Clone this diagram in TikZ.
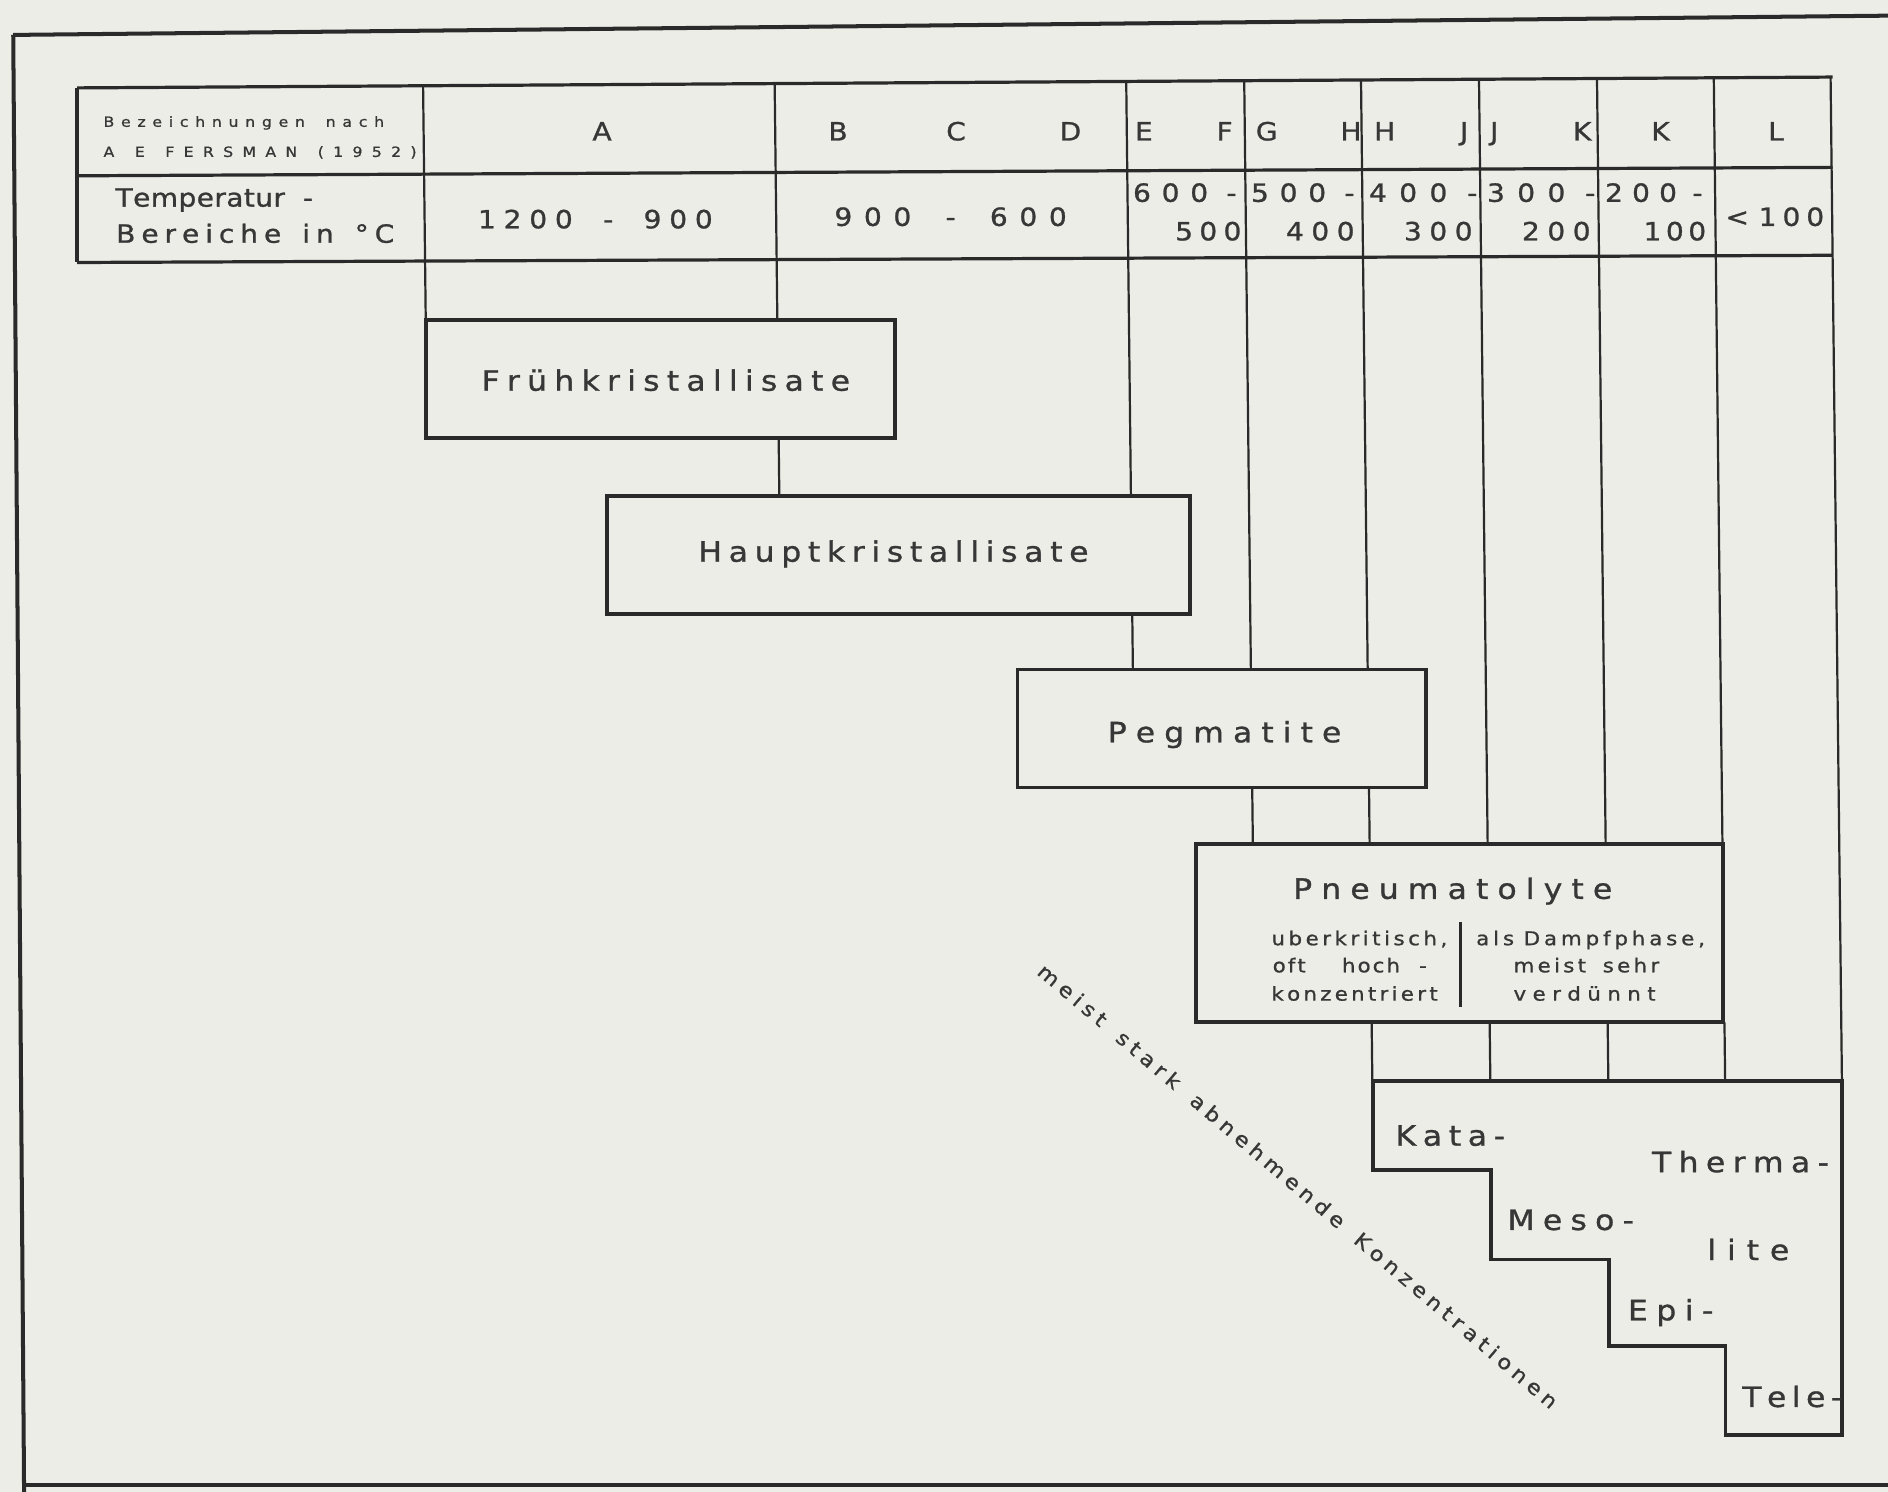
\documentclass[tikz,border=0pt]{standalone}
\usepackage{fontspec}
\setmainfont{DejaVu Sans}[FakeStretch=1.12]
\definecolor{paper}{RGB}{237,237,231}
\definecolor{ink}{RGB}{42,42,42}
\definecolor{tink}{RGB}{55,55,55}
\makeatletter
\newlength\fitwA
\newcount\spn
% letter-spacing by hand: | is a word gap
\def\sp@one#1{\ifx#1|\hspace{\sp@g}\else#1\kern\sp@k\relax\global\advance\spn by 1\relax\fi}
\def\sp@loop#1{\ifx#1\relax\else\sp@one{#1}\expandafter\sp@loop\fi}
\newcommand\sp@run[3]{\def\sp@k{#1}\def\sp@g{#2}\sp@loop#3\relax\unkern}
% \fitw[word gap]{target width in reference px}{text}
\newcommand\fitw[3][0.5em]{%
  \global\spn=0\relax
  \settowidth\fitwA{\sp@run{0pt}{#1}{#3}}%
  \pgfmathsetlengthmacro\sp@kk{(#2*0.6pt-\fitwA)/max(\the\spn-1,1)}%
  \sp@run{\sp@kk}{#1}{#3}}
\makeatother
\tikzset{
  declare function={colx(\a,\b)=\a+0.0113*(\b-215); topy(\a)=73-0.00617*(\a-63);},
  txt/.style={inner sep=0pt, outer sep=0pt, text=tink, anchor=base},
  fbig/.style={font=\fontsize{14}{16}\selectfont\addfontfeature{FakeBold=1}},
  fmid/.style={font=\fontsize{12.5}{15}\selectfont\addfontfeature{FakeBold=1}},
  fsub/.style={font=\fontsize{9.5}{11}\selectfont\addfontfeature{FakeBold=1}},
  fsmall/.style={font=\fontsize{7}{8}\selectfont\addfontfeature{FakeBold=1}},
  fdiag/.style={font=\fontsize{10}{12}\selectfont\addfontfeature{FakeBold=1}},
  boxnode/.style={draw=ink, line width=1.9pt, inner sep=0pt, outer sep=0pt},
  colline/.style={draw=ink, line width=1.1pt},
  tabline/.style={draw=ink, line width=1.6pt},
  frameline/.style={draw=ink, line width=2pt},
}
\begin{document}
\begin{tikzpicture}[x=0.6pt,y=-0.6pt]
\fill[paper] (0,0) rectangle (1568,1239);
\useasboundingbox (0,0) rectangle (1568,1239);

% outer frame
\draw[frameline] (11,29) -- (1568,13);
\draw[frameline] (11,29) -- (20,1239);
\draw[frameline] (18,1233) -- (1568,1233);

% table
\draw[tabline] (64,73) -- (1522,64);
\draw[tabline] (64,146) -- (1522,139);
\draw[tabline] (64,218) -- (1522,212);
\draw[tabline] (64,73) -- (64,218);

% column lines from the table down
\foreach \c/\yb in {353/266,645/266,937/412,1035/556,1132/556,1230/701,1328/701,1425/701,1522/898}
  \draw[colline] ({colx(\c,topy(\c))},{topy(\c)}) -- ({colx(\c,\yb)},\yb);
\foreach \c/\ya/\yb in {645/364/412,937/510/556,1035/654/701,1132/654/701,1132/849/898,1230/849/898,1328/849/898,1425/849/898}
  \draw[colline] ({colx(\c,\ya)},\ya) -- ({colx(\c,\yb)},\yb);

% boxes
\node[boxnode, minimum width=233.4pt, minimum height=58.8pt] (frueh) at (548.5,315) {};
\node[boxnode, minimum width=290.4pt, minimum height=58.8pt] (haupt) at (746,461) {};
\node[boxnode, minimum width=203.4pt, minimum height=58.8pt] (pegm) at (1014.5,605) {};
\node[boxnode, minimum width=262.8pt, minimum height=88.8pt] (pneu) at (1212,775) {};

% staircase (Thermalite)
\draw[draw=ink, line width=1.9pt, line join=miter]
  (1140,898) -- (1530,898) -- (1530,1192) -- (1433,1192) -- (1433,1118)
  -- (1336,1118) -- (1336,1046) -- (1238,1046) -- (1238,972) -- (1140,972) -- cycle;

% row 1 texts
\node[txt,fsmall] (bez1) at (202.5,105.3) {\fitw[1.0em]{233}{Bezeichnungen|nach}};
\node[txt,fsmall] (bez2) at (216,130.3) {\fitw[0.8em]{260}{A|E|FERSMAN|(1952)}};
\foreach \x/\l [count=\i] in {500/A,696/B,794/C,889/D,950/E,1017/F,1052/G,1122/H,1150/H,1216/J,1241/J,1314/K,1379/K,1475/L}
  \node[txt,fmid] (hd\i) at (\x,116.6) {\l};

% row 2 texts
\node[txt,fmid] (temp1) at (178,171.6) {\fitw[0.7em]{164}{Temperatur|-}};
\node[txt,fmid] (temp2) at (212,201.6) {\fitw[0.6em]{231}{Bereiche|in|°C}};
\node[txt,fmid] (ta) at (494.5,189.6) {\fitw[0.9em]{195}{1200|-|900}};
\node[txt,fmid] (tb) at (789.5,187.6) {\fitw[0.9em]{193}{900|-|600}};
\node[txt,fmid] (te1) at (984,167.6) {\fitw[0.3em]{86}{600|-}};
\node[txt,fmid] (tg1) at (1082,167.6) {\fitw[0.3em]{86}{500|-}};
\node[txt,fmid] (th1) at (1182,167.6) {\fitw[0.3em]{90}{400|-}};
\node[txt,fmid] (tj1) at (1280,167.6) {\fitw[0.3em]{90}{300|-}};
\node[txt,fmid] (tk1) at (1373.5,167.6) {\fitw[0.25em]{81}{200|-}};
\node[txt,fmid] (te2) at (1003.5,199.6) {\fitw{55}{500}};
\node[txt,fmid] (tg2) at (1096.5,199.6) {\fitw{57}{400}};
\node[txt,fmid] (th2) at (1194.5,199.6) {\fitw{57}{300}};
\node[txt,fmid] (tj2) at (1292.5,199.6) {\fitw{57}{200}};
\node[txt,fmid] (tk2) at (1391,199.6) {\fitw{52}{100}};
\node[txt,fmid] (tl) at (1474,187.6) {\fitw[0.15em]{82}{<|100}};

% box labels
\node[txt,fbig] (lfrueh) at (553,324.5) {\fitw{306}{Frühkristallisate}};
\node[txt,fbig] (lhaupt) at (742,466.5) {\fitw{324}{Hauptkristallisate}};
\node[txt,fbig] (lpegm) at (1017,616.5) {\fitw{194}{Pegmatite}};
\node[txt,fbig] (lpneu) at (1206.5,746.5) {\fitw{265}{Pneumatolyte}};

% Pneumatolyte sub texts
\node[txt,fsub] (pl1) at (1129,785) {\fitw{146}{uberkritisch,}};
\node[txt,fsub] (pl2) at (1121,807.5) {\fitw[0.9em]{128}{oft||hoch|-}};
\node[txt,fsub] (pl3) at (1125,831) {\fitw{138}{konzentriert}};
\node[txt,fsub] (pr1) at (1321,785) {\fitw[0.3em]{190}{als|Dampfphase,}};
\node[txt,fsub] (pr2) at (1317.5,807.5) {\fitw[0.7em]{121}{meist|sehr}};
\node[txt,fsub] (pr3) at (1316,831) {\fitw{118}{verdünnt}};
\coordinate (divtop) at (1213,766);
\coordinate (divbot) at (1213,836);
\draw[draw=ink, line width=1.2pt] (divtop) -- (divbot);

% staircase labels
\node[txt,fbig] (kata) at (1204.5,951.5) {\fitw{91}{Kata-}};
\node[txt,fbig] (therma) at (1445.5,973.5) {\fitw{147}{Therma-}};
\node[txt,fbig] (meso) at (1304.5,1021.5) {\fitw{105}{Meso-}};
\node[txt,fbig] (lite) at (1452,1046.5) {\fitw{68}{lite}};
\node[txt,fbig] (epi) at (1387.5,1096.5) {\fitw{71}{Epi-}};
\node[txt,fbig] (tele) at (1488.5,1168.5) {\fitw{83}{Tele-}};

% diagonal text
\node[txt,fdiag,anchor=center,rotate=-40.3] (diag) at (1078,985) {\fitw[0.7em]{560}{meist|stark|abnehmende|Konzentrationen}};
\end{tikzpicture}
\end{document}
